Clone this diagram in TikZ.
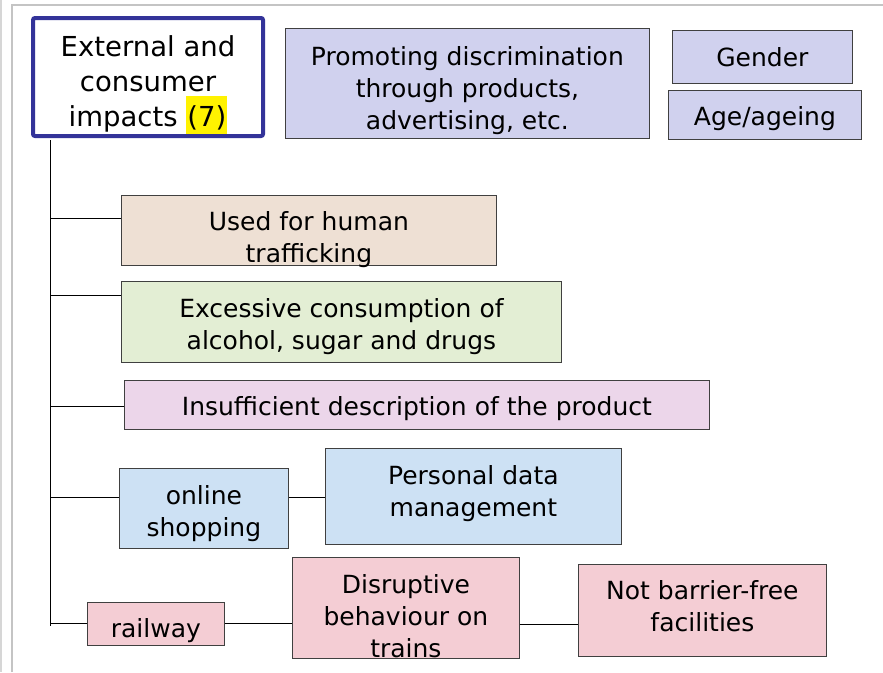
\documentclass[tikz,border=0pt]{standalone}
\usepackage{fontspec}
\setmainfont{DejaVu Sans}
\usetikzlibrary{positioning}

\definecolor{topicblue}{RGB}{51,51,153}
\definecolor{boxgray}{RGB}{64,64,64}
\definecolor{framegray}{RGB}{196,196,196}
\definecolor{lavender}{RGB}{208,209,238}
\definecolor{beige}{RGB}{238,224,212}
\definecolor{palegreen}{RGB}{227,238,212}
\definecolor{mauve}{RGB}{236,214,234}
\definecolor{paleblue}{RGB}{205,225,244}
\definecolor{palepink}{RGB}{244,205,212}

% text lines of a box, first baseline raised by #1 above the box centre
\newcommand{\boxlines}[2]{\raisebox{#1}[0pt][0pt]{\begin{tabular}[t]{@{}c@{}}#2\end{tabular}}}

\tikzset{
	topic/.style={draw=topicblue, line width=4pt, rounded corners=2pt, fill=white, inner sep=0pt, anchor=north west, font=\fontsize{27.5}{35}\selectfont},
	item/.style={draw=boxgray, rectangle, line width=0.8pt, inner sep=0pt, anchor=north west, font=\fontsize{25}{32}\selectfont},
	link/.style={draw=black, line width=1pt},
}

\begin{document}
\begin{tikzpicture}[x=1pt, y=-1pt]
	\useasboundingbox (0,0) rectangle (883,672);
	
	% slide frame
	\draw[framegray!70, line width=1.5pt] (1,0) -- (1,672);
	\draw[framegray, line width=2pt] (12,672) -- (12,5) -- (883,5);
	
	\node (main) [topic, minimum width=230pt, minimum height=118pt] at (31,16) {\boxlines{21pt}{External and\\consumer\\impacts \smash{{\setlength{\fboxsep}{1pt}\colorbox{yellow}{\rule[-7pt]{0pt}{36pt}(7)}}}}};
	
	\node (promo) [item, fill=lavender, minimum width=364pt, minimum height=110pt] at (285,28) {\boxlines{18pt}{Promoting discrimination\\through products,\\advertising, etc.}};
	\node (gender) [item, fill=lavender, minimum width=180pt, minimum height=53pt] at (672,30) {\boxlines{-9.5pt}{Gender}};
	\node (age) [item, fill=lavender, minimum width=193pt, minimum height=49pt] at (668,90) {\boxlines{-10.5pt}{Age/ageing}};
	
	\node (traf) [item, fill=beige, minimum width=375pt, minimum height=70pt] at (121,195) {\boxlines{0pt}{Used for human\\trafficking}};
	\node (exc) [item, fill=palegreen, minimum width=440pt, minimum height=81pt] at (121,281) {\boxlines{4.5pt}{Excessive consumption of\\alcohol, sugar and drugs}};
	\node (insuf) [item, fill=mauve, minimum width=585pt, minimum height=49pt] at (124,380) {\boxlines{-10.5pt}{Insufficient description of the product}};
	
	\node (online) [item, fill=paleblue, minimum width=169pt, minimum height=80pt] at (119,468) {\boxlines{4pt}{online\\shopping}};
	\node (pdata) [item, fill=paleblue, minimum width=296pt, minimum height=96pt] at (325,448) {\boxlines{12pt}{Personal data\\management}};
	
	\node (rail) [item, fill=palepink, minimum width=137pt, minimum height=43pt] at (87,602) {\boxlines{-13.5pt}{railway}};
	\node (disr) [item, fill=palepink, minimum width=227pt, minimum height=101pt] at (292,557) {\boxlines{14.5pt}{Disruptive\\behaviour on\\trains}};
	\node (nbf) [item, fill=palepink, minimum width=248pt, minimum height=92pt] at (578,564) {\boxlines{11pt}{Not barrier-free\\facilities}};
	
	\coordinate (tend) at (50,626);
	\coordinate (b1) at ([yshift=12pt]traf.west);
	\coordinate (b2) at ([yshift=26.5pt]exc.west);
	\coordinate (b3) at ([yshift=-1.5pt]insuf.west);
	\coordinate (b4) at ([yshift=11pt]online.east);
	\coordinate (b5) at ([yshift=11pt]online.west);
	\coordinate (b6) at ([yshift=-16.5pt]disr.east);
	
	\begin{scope}[link]
		\draw[shorten <=2pt] (main.south -| tend) -- (tend);
		\draw (b1) -- (b1 -| tend);
		\draw (b2) -- (b2 -| tend);
		\draw (b3) -- (b3 -| tend);
		\draw (b5) -- (b5 -| tend);
		\draw (rail.west) -- (rail.west -| tend);
		
		\draw (b4) -- (b4 -| pdata.west);
		\draw (rail.east) -- (rail.east -| disr.west);
		\draw (b6) -- (b6 -| nbf.west);
	\end{scope}
	
\end{tikzpicture}
\end{document}
